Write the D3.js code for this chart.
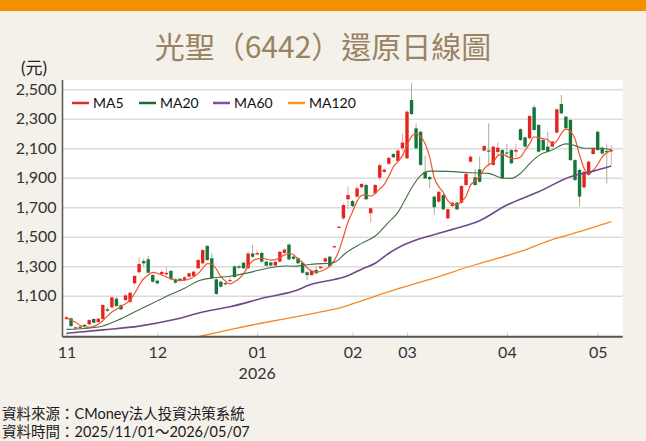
<!DOCTYPE html>
<html><head><meta charset="utf-8">
<script src="https://cdn.jsdelivr.net/npm/d3@7/dist/d3.min.js"></script>
<style>body{margin:0;background:#f4f1ea;}svg{display:block}</style>
</head><body><svg id="c" width="646" height="441"></svg>
<script>
// ---- categories: trading days ----
const monthKeys = ["2025-11","2025-12","2026-01","2026-02","2026-03","2026-04","2026-05"];
const monthLabels = ["11","12","01","02","03","04","05"];
const monthDays = [
 [3,4,5,6,7,10,11,12,13,14,17,18,19,20,21,24,25,26,27,28],
 [1,2,3,4,5,8,9,10,11,12,15,16,17,18,19,22,23,24,26,29,30,31],
 [2,5,6,7,8,9,12,13,14,15,16,19,20,21,22,23,26,27,28,29,30],
 [2,3,4,5,6,9,10,11,23,24,25,26],
 [2,3,4,5,6,9,10,11,12,13,16,17,18,19,20,23,24,25,26,27,30,31],
 [1,2,7,8,9,10,13,14,15,16,17,20,21,22,23,24,27,28,29,30],
 [4,5,6,7]
];
// ---- series values (OHLC) ----
const open = [942,947,880,890,902,906,942,922,942,1008,1021,1080,1035,1071,1057,1184,1259,1335,1347,1240,
 1202,1247,1245,1268,1211,1215,1207,1229,1234,1286,1320,1437,1354,1211,1195,1185,1200,1299,1300,1324,
 1286,1386,1380,1390,1331,1325,1305,1331,1390,1447,1365,1354,1324,1259,1240,1275,1286,1331,1365,1428,
 1560,1625,1754,1742,1772,1835,1851,1659,1795,1900,1940,1995,2061,2014,2100,2032,2427,2235,2212,1941,
 1905,1772,1738,1783,1625,1708,1731,1731,1851,2009,1903,1957,2084,2085,1987,2075,2088,2072,2088,2077,
 2229,2174,2168,2378,2258,2156,2111,2111,2206,2400,2314,2292,2020,1953,1835,1919,2061,2212,2104,2082,2079];
const high = [962,952,892,896,908,942,948,950,1045,1025,1096,1090,1042,1110,1128,1242,1360,1350,1371,1248,
 1210,1275,1297,1275,1218,1222,1232,1258,1270,1350,1418,1444,1388,1218,1202,1195,1225,1305,1310,1330,
 1402,1444,1410,1398,1338,1332,1336,1405,1420,1454,1372,1362,1330,1266,1276,1297,1303,1360,1372,1440,
 1572,1727,1840,1750,1845,1865,1858,1700,1858,2000,1962,2042,2068,2100,2200,2360,2541,2269,2220,2050,
 1912,1780,1812,1790,1692,1738,1738,1850,1932,2050,1960,2045,2122,2269,2118,2140,2095,2130,2095,2130,
 2236,2180,2326,2393,2265,2162,2213,2152,2370,2461,2320,2298,2026,1960,1948,2016,2108,2220,2111,2126,2122];
const low = [936,888,874,878,890,900,912,916,938,990,1015,1025,1000,1065,1050,1178,1252,1300,1250,1190,
 1176,1240,1238,1205,1182,1195,1200,1222,1228,1280,1312,1335,1212,1105,1155,1170,1192,1220,1282,1280,
 1280,1358,1372,1325,1298,1298,1300,1325,1384,1340,1342,1314,1250,1207,1234,1246,1280,1325,1295,1424,
 1556,1614,1687,1700,1765,1828,1748,1595,1788,1880,1932,1988,2032,2005,2080,2025,2325,2092,1980,1890,
 1830,1650,1730,1680,1618,1700,1680,1725,1845,2002,1845,1866,2078,1975,1980,2050,1890,2040,1992,2040,
 2150,2105,2160,2218,2070,2082,2070,2105,2200,2330,2230,2014,1878,1704,1828,1912,2055,2082,2058,1862,1987];
const close = [954,894,886,884,895,935,917,944,1037,998,1089,1030,1008,1102,1120,1234,1315,1320,1256,1195,
 1184,1261,1255,1211,1189,1202,1225,1252,1263,1342,1410,1342,1218,1112,1161,1178,1207,1227,1290,1286,
 1386,1364,1390,1331,1304,1305,1330,1398,1413,1346,1350,1320,1256,1240,1270,1252,1297,1354,1301,1436,
 1568,1715,1783,1708,1828,1858,1754,1693,1851,1985,1955,2035,2039,2084,2138,2348,2332,2100,1987,1896,
 1890,1700,1805,1686,1686,1731,1686,1844,1925,2043,1851,1873,2115,2080,2111,2104,1896,2068,1998,2088,
 2156,2111,2319,2224,2077,2088,2077,2145,2364,2337,2236,2020,1885,1772,1941,2009,2100,2088,2064,2078,2088];
// ---- moving averages ----
const ma5 = [947,935,920,900,888,886,892,906,930,962,990,1008,1028,1045,1070,1115,1170,1215,1240,1258,
 1252,1240,1228,1216,1208,1202,1205,1212,1228,1250,1285,1318,1315,1280,1230,1200,1180,1195,1215,1250,
 1300,1335,1350,1354,1348,1342,1345,1360,1375,1388,1378,1350,1325,1290,1268,1260,1266,1280,1300,1340,
 1405,1500,1600,1670,1740,1780,1785,1775,1795,1825,1855,1910,1975,2010,2050,2120,2180,2200,2180,2130,
 2040,1900,1840,1800,1745,1720,1718,1740,1775,1850,1880,1910,1960,1990,2005,2050,2058,2045,2032,2030,
 2040,2085,2130,2178,2170,2165,2158,2130,2150,2200,2230,2215,2165,2055,1965,1925,1950,1990,2042,2070,2086];
const ma20Idx = [0,4,8,11,14,17,20,23,26,29,32,36,40,44,48,50,53,55,58,60,61,65,68,71,73,75,76,78,80,84,89,93,96,98,100,102,104,107,110,112,114,117,120];
const ma20 = [872,878,895,930,975,1020,1065,1110,1150,1200,1220,1232,1255,1285,1302,1300,1310,1316,1320,1345,1376,1455,1505,1600,1665,1775,1830,1915,1945,1943,1934,1930,1898,1896,1930,1995,2050,2089,2130,2118,2100,2100,2090];
const ma60Idx = [0,8,16,24,30,36,44,50,54,59,61,65,68,71,74,77,82,85,91,97,104,111,116,120];
const ma60 = [845,868,894,940,990,1025,1089,1130,1177,1210,1225,1280,1320,1388,1440,1478,1523,1550,1609,1715,1805,1907,1945,1980];
const ma120Idx = [29,36,44,51,56,61,65,71,80,90,100,107,113,120];
const ma120 = [822,870,920,960,990,1025,1065,1127,1210,1310,1400,1480,1534,1602];
const yTicks = [1100,1300,1500,1700,1900,2100,2300,2500];
const legendNames = ["MA5","MA20","MA60","MA120"];
const legendColors = ["#dc2b26","#1f6a37","#7d4f9f","#f39a1c"];
const lineColors = ["#f0552c","#3f6f41","#6e4a8c","#f38a26"];
const upColor = "#e5231f", downColor = "#17753b";
const upWick = "#f3a29a", downWick = "#a6ae98";

// derived categories
const dates = monthKeys.flatMap((m,k)=>monthDays[k].map(d=>m+"-"+String(d).padStart(2,"0")));
const monthStart = monthKeys.map(m=>dates.findIndex(d=>d.startsWith(m)));

const L=62.5,R=622.7,T=80,B=336.7;
const svg = d3.select("#c");
const x = d3.scaleLinear().domain([-0.88,122.51]).range([L,R]);
const y = d3.scaleLinear().domain([822,2563]).range([B,T]);

svg.append("rect").attr("x",0).attr("y",0).attr("width",646).attr("height",11).attr("fill","#f29000");
svg.append("text").attr("x",323).attr("y",58).attr("text-anchor","middle")
  .attr("font-family","'Noto Sans CJK TC'").attr("font-size",30).attr("fill","#9a8363").text("光聖（6442）還原日線圖");
svg.append("text").attr("x",21).attr("y",74).attr("font-family","Lato,'Noto Sans CJK TC'").attr("font-size",17).attr("fill","#222").text("(元)");

svg.append("rect").attr("x",L).attr("y",T).attr("width",R-L).attr("height",B-T).attr("fill","#fff");
svg.append("defs").append("clipPath").attr("id","pc").append("rect").attr("x",L).attr("y",T).attr("width",R-L).attr("height",B-T);

// y axis with gridlines
const gy = svg.append("g").attr("transform",`translate(${L},0)`)
  .call(d3.axisLeft(y).tickValues(yTicks).tickFormat(d3.format(",")).tickSize(-(R-L)).tickPadding(6));
gy.select(".domain").remove();
gy.selectAll(".tick line").attr("stroke","#dcdcdc").attr("stroke-width",1.5);
gy.selectAll(".tick text").attr("font-family","Lato").attr("font-size",16).attr("fill","#333");

// x axis
const gx = svg.append("g").attr("transform",`translate(0,${B})`)
  .call(d3.axisBottom(x).tickValues(monthStart).tickFormat((d,i)=>monthLabels[i]).tickSize(-4).tickPadding(10));
gx.select(".domain").remove();
gx.selectAll(".tick line").attr("stroke","#c8c8c8").attr("stroke-width",1);
gx.selectAll(".tick text").attr("font-family","Lato").attr("font-size",16).attr("fill","#333");
svg.append("text").attr("x",x(monthStart[2])).attr("y",379).attr("text-anchor","middle")
  .attr("font-family","Lato").attr("font-size",16).attr("fill","#333").text("2026");

// candles
const plot = svg.append("g").attr("clip-path","url(#pc)");
const idx = d3.range(close.length);
const bw = 3.4;
plot.selectAll("line.w").data(idx).join("line").attr("class","w")
  .attr("x1",i=>x(i)).attr("x2",i=>x(i)).attr("y1",i=>y(high[i])).attr("y2",i=>y(low[i]))
  .attr("stroke",i=>close[i]>=open[i]?upWick:downWick).attr("stroke-width",1);
plot.selectAll("rect.b").data(idx).join("rect").attr("class","b")
  .attr("x",i=>x(i)-bw/2).attr("width",bw)
  .attr("y",i=>y(Math.max(open[i],close[i])))
  .attr("height",i=>Math.max(1.2,Math.abs(y(open[i])-y(close[i]))))
  .attr("fill",i=>close[i]>=open[i]?upColor:downColor);

// MA lines
const mk = (xs,vs)=>xs.map((d,k)=>[d,vs[k]]);
const lineGen = d3.line().x(d=>x(d[0])).y(d=>y(d[1])).curve(d3.curveMonotoneX);
const series = [mk(idx,ma5),mk(ma20Idx,ma20),mk(ma60Idx,ma60),mk(ma120Idx,ma120)];
const widths = [1.2,1.1,1.6,1.3];
series.forEach((s,k)=>{
  plot.append("path").datum(s).attr("d",lineGen).attr("fill","none")
    .attr("stroke",lineColors[k]).attr("stroke-width",widths[k]);
});

// axis lines
svg.append("line").attr("x1",L).attr("x2",L).attr("y1",T).attr("y2",B).attr("stroke","#555").attr("stroke-width",1.5);
svg.append("line").attr("x1",L).attr("x2",R).attr("y1",B).attr("y2",B).attr("stroke","#555").attr("stroke-width",2);

// legend
const legX = [72,139,213,288];
const lg = svg.append("g");
legendNames.forEach((n,k)=>{
  lg.append("line").attr("x1",legX[k]).attr("x2",legX[k]+17).attr("y1",103).attr("y2",103)
    .attr("stroke",legendColors[k]).attr("stroke-width",2.5);
  lg.append("text").attr("x",legX[k]+21).attr("y",108).attr("font-family","Lato").attr("font-size",14)
    .attr("fill","#111").text(n);
});

// footer
const ft = ["資料來源：CMoney法人投資決策系統","資料時間：2025/11/01～2026/05/07"];
ft.forEach((t,k)=>svg.append("text").attr("x",2).attr("y",419+k*18)
  .attr("font-family","Lato,'Noto Sans CJK TC'").attr("font-size",14.5).attr("fill","#1a1a1a").text(t));
</script></body></html>
